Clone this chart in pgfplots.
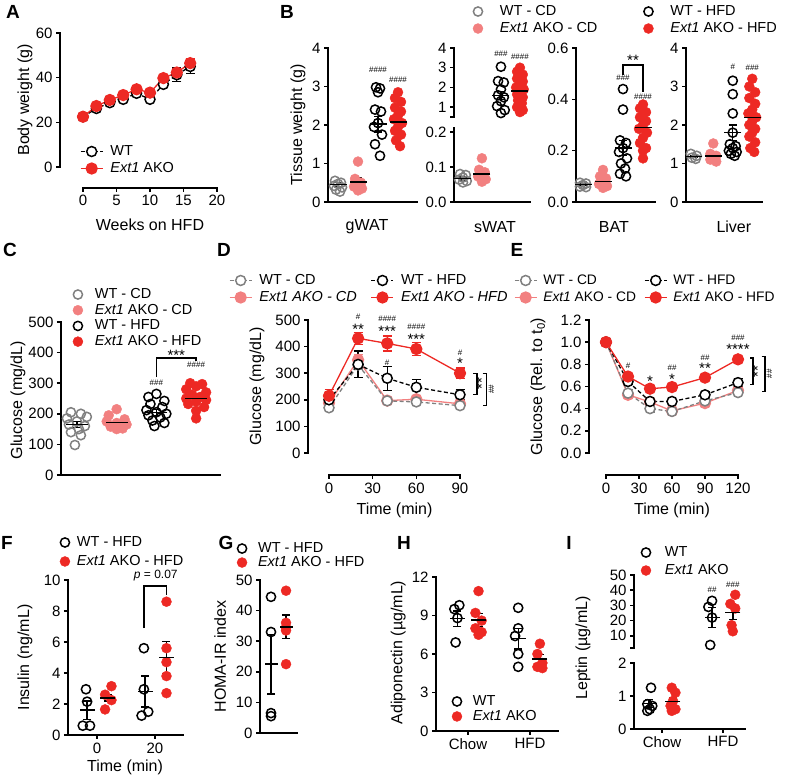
\documentclass[border=0pt]{standalone}
\usepackage{fontspec}
\setmainfont{Liberation Sans}
\usepackage{pgfplots}
\pgfplotsset{compat=1.18}

\definecolor{cRed}{RGB}{237,41,36}
\definecolor{cPink}{RGB}{242,128,128}
\definecolor{cGrey}{RGB}{128,128,128}

\newcommand\fs{\fontsize{15}{18}\selectfont}
\newcommand\als{\fontsize{16}{19}\selectfont}
\newcommand\lgf{\fontsize{14.5}{17}\selectfont}
\newcommand\lgs{\fontsize{13.8}{16}\selectfont}
\newcommand\hs{\fontsize{8}{8}\selectfont}
\newcommand\stf{\fontsize{15}{15}\selectfont}
\newcommand\pf{\fontsize{12}{14}\selectfont}
\newcommand\lf{\bfseries\fontsize{19}{19}\selectfont}

\pgfplotsset{
  prism/.style={
    scale only axis, clip=false, anchor=south west,
    axis lines*=left, tick align=outside, major tick length=4pt,
    axis line style={line width=1.5pt, line cap=rect},
    tick style={line width=1.5pt, black},
    tick label style={font=\fs}, label style={font=\als},
    /pgf/number format/assume math mode=true,
    legend cell align=left,
    legend style={draw=none, fill=none, inner sep=0pt, outer sep=0pt,
      anchor=north west, font=\lgf,
      nodes={inner sep=0pt, text height=10.5pt, text depth=2.5pt}},
  },
  ylab/.style 2 args={ylabel style={at={(axis description cs:#1,#2)}, anchor=center}},
  xlab/.style 2 args={xlabel style={at={(axis description cs:#1,#2)}, anchor=center}},
  gWtCd/.style={only marks, cGrey, mark=o, mark size=4.6pt, mark options={line width=1.5pt}},
  gAkoCd/.style={only marks, cPink, mark=*, mark size=5pt},
  gWtHfd/.style={only marks, black, mark=o, mark size=4.6pt, mark options={line width=1.5pt}},
  gAkoHfd/.style={only marks, cRed, mark=*, mark size=5pt},
  dotLegend/.style={legend image code/.code={\draw[##1] plot coordinates {(0pt,0pt)};}},
  lineLegend/.style={legend image code/.code={\draw[mark repeat=2,mark phase=2,##1] plot coordinates {(0pt,0pt) (11pt,0pt) (22pt,0pt)};}},
  mbar/.style={black, only marks, mark=-, mark size=#1, mark options={line width=1.5pt},
    error bars/y dir=both, error bars/y explicit,
    error bars/error bar style={line width=1.4pt, black},
    error bars/error mark options={rotate=90, line width=1.4pt, mark size=4pt, black}},
  mbar/.default=8pt,
  lWtCd/.style={cGrey, line width=1.3pt, dash pattern=on 4pt off 2.5pt, mark=*, mark size=5pt,
    mark options={solid, fill=white, draw=cGrey, line width=1.5pt}},
  lAkoCd/.style={cPink, line width=1.3pt, mark=*, mark size=5.5pt, mark options={solid}},
  lWtHfd/.style={black, line width=1.3pt, dash pattern=on 4pt off 2.5pt, mark=*, mark size=5pt,
    mark options={solid, fill=white, draw=black, line width=1.5pt}},
  lAkoHfd/.style={cRed, line width=1.3pt, mark=*, mark size=5.5pt, mark options={solid}},
  ts/.style={error bars/y dir=both, error bars/y explicit,
    error bars/error bar style={solid, line width=1.3pt},
    error bars/error mark options={rotate=90, solid, line width=1.3pt, mark size=4.5pt, #1}},
  ts/.default=black,
}

\begin{document}
\begin{tikzpicture}[font=\fs]
\useasboundingbox (0pt,0pt) rectangle (785pt,779pt);

% panel letters
\node[font=\lf] at (13pt,767pt) {A};
\node[font=\lf] at (287pt,767pt) {B};
\node[font=\lf] at (10pt,529pt) {C};
\node[font=\lf] at (224pt,529pt) {D};
\node[font=\lf] at (517pt,529pt) {E};
\node[font=\lf] at (7pt,236pt) {F};
\node[font=\lf] at (226pt,236pt) {G};
\node[font=\lf] at (404pt,236pt) {H};
\node[font=\lf] at (569pt,236pt) {I};

% ---------------- A: body weight ----------------
\begin{axis}[prism, at={(83pt,612pt)}, width=134pt, height=134pt,
  xmin=0, xmax=20, ymin=0, ymax=60,
  xtick={0,5,10,15,20}, ytick={0,20,40,60},
  axis x line shift=21pt, axis y line shift=23pt,
  xlabel={Weeks on HFD}, ylabel={Body weight (g)},
  xlab={0.5}{-0.433}, ylab={-0.433}{0.5},
  lineLegend,
  legend style={at={(axis description cs:-0.022,0.164)}, row sep=4pt,
    /tikz/every odd column/.style={column sep=7pt}}]
\addplot[lWtHfd, ts=black] coordinates {
  (0,22.5)+-(0,0.5) (2,26.2)+-(0,0.8) (4,28.8)+-(0,0.8) (6,30.3)+-(0,0.8)
  (8,33)+-(0,1) (10,30.3)+-(0,1) (12,37)+-(0,1.5) (14,41.3)+-(0,3) (16,45)+-(0,3)};
\addlegendentry{WT}
\addplot[lAkoHfd, ts=cRed] coordinates {
  (0,22.5)+-(0,0.8) (2,27.3)+-(0,0.8) (4,30)+-(0,0.8) (6,32.2)+-(0,0.8)
  (8,34.8)+-(0,1) (10,33.3)+-(0,1) (12,39.8)+-(0,1.2) (14,42.3)+-(0,1.5) (16,46.5)+-(0,2)};
\addlegendentry{\textit{Ext1} AKO}
\end{axis}

% ---------------- B: tissue weights ----------------
% gWAT
\begin{axis}[prism, at={(328pt,577pt)}, width=89pt, height=154pt,
  xmin=0.5, xmax=4.95, ymin=0, ymax=4, ytick={0,1,2,3,4}, xtick=\empty,
  xlabel={gWAT}, ylabel={Tissue weight (g)}, xlab={0.438}{-0.162}, ylab={-0.337}{0.5},
  legend columns=2,
  legend style={at={(axis description cs:1.629,1.279)}, row sep=4pt,
    /tikz/every odd column/.style={column sep=17pt},
    /tikz/every even column/.style={column sep=46pt}}]
\addlegendimage{gWtCd, dotLegend}\addlegendentry{WT - CD}
\addlegendimage{gWtHfd, dotLegend}\addlegendentry{WT - HFD}
\addlegendimage{gAkoCd, dotLegend}\addlegendentry{\textit{Ext1} AKO - CD}
\addlegendimage{gAkoHfd, dotLegend}\addlegendentry{\textit{Ext1} AKO - HFD}
\addplot[gWtCd, forget plot] coordinates {(0.85,0.55)(1.15,0.5)(1,0.47)(0.8,0.42)(1.2,0.38)(0.9,0.32)(1.1,0.27)};
\addplot[gAkoCd, forget plot] coordinates {(2,1.05)(1.85,0.6)(2.15,0.5)(1.8,0.4)(2.2,0.35)(2,0.3)};
\addplot[gWtHfd, forget plot] coordinates {(2.9,2.98)(3.1,2.95)(3,2.85)(2.85,2.4)(3.15,2.35)(3,2.05)(2.8,1.95)(3.2,1.75)(2.85,1.5)(3.1,1.2)};
\addplot[gAkoHfd, forget plot] coordinates {(4,2.85)(3.85,2.7)(4.15,2.6)(3.85,2.45)(4.15,2.35)(4,2.25)(3.8,2.15)(4.2,2.05)(4,1.95)(3.85,1.85)(4.15,1.75)(3.9,1.6)(4.1,1.45)};
\addplot[mbar=8.5pt, forget plot] coordinates {(1,0.45)+-(0,0.05) (2,0.52)+-(0,0.12) (3,2.02)+-(0,0.2) (4,2.08)+-(0,0.1)};
\node[font=\hs] at (axis cs:3,3.43) {\#\#\#\#};
\node[font=\hs] at (axis cs:4,3.17) {\#\#\#\#};
\end{axis}

% sWAT, lower segment
\begin{axis}[prism, at={(454pt,577pt)}, width=76pt, height=74.3pt,
  xmin=0.53, xmax=4.53, ymin=0, ymax=0.2125, ytick={0,0.1,0.2}, yticklabels={0.0,0.1,0.2},
  xtick=\empty, xlabel={sWAT}, xlab={0.54}{-0.336}]
\addplot[gWtCd] coordinates {(0.85,0.08)(1.15,0.077)(1,0.07)(0.8,0.064)(1.2,0.06)(1,0.056)};
\addplot[gAkoCd] coordinates {(2,0.125)(1.85,0.092)(2.15,0.085)(1.8,0.073)(2.2,0.065)(2,0.058)};
\addplot[mbar=8.5pt] coordinates {(1,0.067)+-(0,0.004) (2,0.08)+-(0,0.01)};
\end{axis}
% sWAT, upper segment
\begin{axis}[prism, at={(454pt,662pt)}, width=76pt, height=69pt, axis x line=none,
  xmin=0.53, xmax=4.53, ymin=0.5, ymax=4, ytick={0.5,1,2,3,4}, yticklabels={,1,2,3,4}]
\addplot[gWtHfd] coordinates {(3,3.05)(2.85,2.32)(3.15,2.25)(3,1.9)(2.85,1.6)(3.15,1.5)(3,1.3)(2.8,1.05)(3.2,0.85)(3,0.7)};
\addplot[gAkoHfd] coordinates {(4,3.0)(3.85,2.8)(4.15,2.65)(3.85,2.45)(4.15,2.3)(4,2.15)(3.8,2.0)(4.2,1.9)(4,1.8)(3.85,1.65)(4.15,1.5)(3.9,1.35)(4.1,1.2)(3.85,1.0)(4.15,0.85)(4,0.75)};
\addplot[mbar=8.5pt] coordinates {(3,1.6)+-(0,0.2) (4,1.82)+-(0,0.12)};
\node[font=\hs] at (axis cs:3,3.7) {\#\#\#};
\node[font=\hs] at (axis cs:4,3.55) {\#\#\#\#};
\end{axis}

% BAT
\begin{axis}[prism, at={(576pt,577pt)}, width=79pt, height=154pt,
  xmin=0.65, xmax=4.6, ymin=0, ymax=0.6, ytick={0,0.2,0.4,0.6}, yticklabels={0.0,0.2,0.4,0.6},
  xtick=\empty, xlabel={BAT}, xlab={0.48}{-0.162}]
\addplot[gWtCd] coordinates {(0.85,0.075)(1.15,0.072)(1,0.066)(0.85,0.06)(1.15,0.058)};
\addplot[gAkoCd] coordinates {(2,0.125)(1.85,0.1)(2.15,0.092)(2,0.08)(1.8,0.07)(2.2,0.062)(2,0.055)};
\addplot[gWtHfd] coordinates {(3,0.44)(3,0.36)(2.85,0.24)(3.15,0.23)(3,0.21)(2.8,0.195)(3.2,0.17)(2.9,0.15)(3.1,0.13)(2.85,0.11)(3.15,0.1)};
\addplot[gAkoHfd] coordinates {(4,0.38)(3.85,0.365)(4.15,0.35)(3.85,0.33)(4.15,0.315)(4,0.3)(3.8,0.285)(4.2,0.27)(4,0.25)(3.85,0.23)(4.15,0.21)(4,0.2)(4,0.17)};
\addplot[mbar=8.5pt] coordinates {(1,0.068)+-(0,0.004) (2,0.08)+-(0,0.01) (3,0.21)+-(0,0.03) (4,0.29)+-(0,0.015)};
\node[font=\hs] at (axis cs:3,0.483) {\#\#\#};
\node[font=\hs] at (axis cs:4,0.409) {\#\#\#\#};
\draw[line width=1.4pt] (axis cs:3,0.495) -- (axis cs:3,0.534) -- (axis cs:4,0.534) -- (axis cs:4,0.43);
\node[font=\stf] at (axis cs:3.5,0.553) {**};
\end{axis}

% Liver
\begin{axis}[prism, at={(686pt,577pt)}, width=76pt, height=154pt,
  xmin=0.6, xmax=4.5, ymin=0, ymax=4, ytick={0,1,2,3,4},
  xtick=\empty, xlabel={Liver}, xlab={0.63}{-0.162}]
\addplot[gWtCd] coordinates {(0.85,1.25)(1.15,1.2)(0.9,1.15)(1.1,1.12)};
\addplot[gAkoCd] coordinates {(2,1.52)(1.85,1.25)(2.15,1.2)(1.85,1.1)(2.15,1.05)};
\addplot[gWtHfd] coordinates {(3,3.15)(3,2.8)(3,2.3)(3,1.8)(2.85,1.5)(3.15,1.45)(3,1.4)(2.8,1.33)(3.2,1.3)(2.9,1.25)(3.1,1.2)};
\addplot[gAkoHfd] coordinates {(4,3.2)(3.85,3.0)(4.15,2.85)(3.85,2.7)(4.15,2.55)(4,2.4)(3.8,2.3)(4.2,2.2)(4,2.1)(3.85,2.0)(4.15,1.9)(4,1.8)(3.85,1.7)(4.15,1.55)(3.9,1.4)(4.1,1.3)};
\addplot[mbar=8.5pt] coordinates {(1,1.18)+-(0,0.03) (2,1.2)+-(0,0.07) (3,1.8)+-(0,0.2) (4,2.2)+-(0,0.12)};
\node[font=\hs] at (axis cs:3,3.5) {\#};
\node[font=\hs] at (axis cs:4,3.48) {\#\#\#};
\end{axis}

% ---------------- C: fasting glucose ----------------
\begin{axis}[prism, at={(61pt,304pt)}, width=159pt, height=153pt,
  xmin=0.6, xmax=4.6, ymin=0, ymax=500, ytick={0,100,200,300,400,500}, xtick=\empty,
  ylabel={Glucose (mg/dL)}, ylab={-0.27}{0.49},
  legend style={at={(axis description cs:0.075,1.222)}, row sep=2.7pt,
    /tikz/every odd column/.style={column sep=12pt}}]
\addlegendimage{gWtCd, dotLegend}\addlegendentry{WT - CD}
\addlegendimage{gAkoCd, dotLegend}\addlegendentry{\textit{Ext1} AKO - CD}
\addlegendimage{gWtHfd, dotLegend}\addlegendentry{WT - HFD}
\addlegendimage{gAkoHfd, dotLegend}\addlegendentry{\textit{Ext1} AKO - HFD}
\addplot[gWtCd, forget plot] coordinates {(0.85,205)(1.1,200)(1.25,190)(0.75,185)(1,175)(0.8,165)(1.2,160)(1.05,150)(0.85,140)(1.1,130)(0.95,98)};
\addplot[gAkoCd, forget plot] coordinates {(2,215)(1.8,195)(2.2,182)(1.75,175)(2,170)(2.25,165)(1.85,158)(2.15,152)(2,150)};
\addplot[gWtHfd, forget plot] coordinates {(3,265)(2.8,255)(3.2,242)(2.85,232)(3.15,222)(2.75,212)(3,205)(3.25,200)(2.8,195)(3.1,188)(2.9,178)(3.2,170)(2.95,160)};
\addplot[gAkoHfd, forget plot] coordinates {(3.85,300)(4.15,297)(4,290)(3.75,280)(4.25,270)(3.9,262)(4.1,255)(3.75,250)(4.25,245)(4,240)(3.8,232)(4.2,222)(4,210)(4,185)};
\addplot[mbar=11pt, forget plot] coordinates {(1,165)+-(0,10) (2,172)+-(0,5) (3,205)+-(0,10) (4,250)+-(0,10)};
\node[font=\hs] at (axis cs:3,300) {\#\#\#};
\node[font=\hs] at (axis cs:4,360) {\#\#\#\#};
\draw[line width=1.4pt] (axis cs:3,320) -- (axis cs:3,382) -- (axis cs:4,382) -- (axis cs:4,374);
\node[font=\stf] at (axis cs:3.5,392) {***};
\end{axis}

% ---------------- D: GTT ----------------
\begin{axis}[prism, at={(329pt,326pt)}, width=131pt, height=133pt,
  xmin=0, xmax=90, ymin=0, ymax=500, xtick={0,30,60,90}, ytick={0,100,200,300,400,500},
  axis x line shift=22pt, axis y line shift=21pt,
  xlabel={Time (min)}, ylabel={Glucose (mg/dL)}, xlab={0.5}{-0.43}, ylab={-0.55}{0.5},
  lineLegend, legend columns=2,
  legend style={at={(axis description cs:-0.763,1.346)}, row sep=4pt,
    /tikz/every odd column/.style={column sep=7pt},
    /tikz/every even column/.style={column sep=14pt}}]
\addlegendimage{lWtCd}\addlegendentry{WT - CD}
\addlegendimage{lWtHfd}\addlegendentry{WT - HFD}
\addlegendimage{lAkoCd}\addlegendentry{\textit{Ext1 AKO - CD}}
\addlegendimage{lAkoHfd}\addlegendentry{\textit{Ext1 AKO - HFD}}
\addplot[lAkoCd, ts=cPink, forget plot] coordinates {(0,188)+-(0,10) (20,350)+-(0,20) (40,197)+-(0,8) (60,202)+-(0,8) (90,185)+-(0,8)};
\addplot[lWtCd, ts=cGrey, forget plot] coordinates {(0,170)+-(0,8) (20,331)+-(0,15) (40,196)+-(0,8) (60,192)+-(0,8) (90,178)+-(0,8)};
\addplot[lWtHfd, ts=black, forget plot] coordinates {(0,200)+-(0,20) (20,333)+-(0,50) (40,281)+-(0,45) (60,247)+-(0,30) (90,219)+-(0,20)};
\addplot[lAkoHfd, ts=cRed, forget plot] coordinates {(0,215)+-(0,25) (20,431)+-(0,22) (40,412)+-(0,28) (60,391)+-(0,25) (90,300)+-(0,20)};
\node[font=\hs] at (axis cs:20,512) {\#};
\node[font=\stf] at (axis cs:20,466) {**};
\node[font=\hs] at (axis cs:40,506) {\#\#\#\#};
\node[font=\stf] at (axis cs:40,458) {***};
\node[font=\hs] at (axis cs:40,341) {\#};
\node[font=\hs] at (axis cs:60,475) {\#\#\#\#};
\node[font=\stf] at (axis cs:60,429) {***};
\node[font=\hs] at (axis cs:90,377) {\#};
\node[font=\stf] at (axis cs:90,336) {*};
\draw[line width=1.3pt] (axis cs:99,300) -- (axis cs:101.6,300) -- (axis cs:101.6,219) -- (axis cs:99,219);
\node[font=\stf, rotate=90] at (axis cs:105,260) {**};
\draw[line width=1.3pt] (axis cs:105.5,300) -- (axis cs:108,300) -- (axis cs:108,178) -- (axis cs:105.5,178);
\node[font=\hs, rotate=90] at (axis cs:111.5,240) {\#\#};
\end{axis}

% ---------------- E: ITT ----------------
\begin{axis}[prism, at={(606pt,326pt)}, width=132pt, height=133pt,
  xmin=0, xmax=120, ymin=0, ymax=1.2, xtick={0,30,60,90,120},
  ytick={0,0.2,0.4,0.6,0.8,1.0,1.2}, yticklabels={0.0,0.2,0.4,0.6,0.8,1.0,1.2},
  axis x line shift=22pt, axis y line shift=17pt,
  xlabel={Time (min)}, ylabel={Glucose (Rel. to t\textsubscript{0})}, xlab={0.5}{-0.43}, ylab={-0.515}{0.5},
  lineLegend, legend columns=2,
  legend style={at={(axis description cs:-0.697,1.346)}, row sep=4pt, font=\lgs,
    /tikz/every odd column/.style={column sep=6pt},
    /tikz/every even column/.style={column sep=8pt}}]
\addlegendimage{lWtCd}\addlegendentry{WT - CD}
\addlegendimage{lWtHfd}\addlegendentry{WT - HFD}
\addlegendimage{lAkoCd}\addlegendentry{\textit{Ext1} AKO - CD}
\addlegendimage{lAkoHfd}\addlegendentry{\textit{Ext1} AKO - HFD}
\addplot[lAkoCd, ts=cPink, forget plot] coordinates {(0,1.0) (20,0.525)+-(0,0.03) (40,0.46)+-(0,0.03) (60,0.38)+-(0,0.02) (90,0.45)+-(0,0.02) (120,0.565)+-(0,0.02)};
\addplot[lWtCd, ts=cGrey, forget plot] coordinates {(0,1.0) (20,0.54)+-(0,0.03) (40,0.40)+-(0,0.03) (60,0.375)+-(0,0.01) (90,0.47)+-(0,0.02) (120,0.545)+-(0,0.02)};
\addplot[lWtHfd, ts=black, forget plot] coordinates {(0,1.0) (20,0.645)+-(0,0.03) (40,0.465)+-(0,0.02) (60,0.465)+-(0,0.02) (90,0.525)+-(0,0.03) (120,0.635)+-(0,0.04)};
\addplot[lAkoHfd, ts=cRed, forget plot] coordinates {(0,1.0) (20,0.69)+-(0,0.03) (40,0.58)+-(0,0.02) (60,0.595)+-(0,0.02) (90,0.68)+-(0,0.02) (120,0.845)+-(0,0.02)};
\node[font=\hs] at (axis cs:20,0.79) {\#};
\node[font=\stf] at (axis cs:40,0.65) {*};
\node[font=\hs] at (axis cs:60,0.766) {\#\#};
\node[font=\stf] at (axis cs:60,0.663) {*};
\node[font=\hs] at (axis cs:90,0.862) {\#\#};
\node[font=\stf] at (axis cs:90,0.763) {**};
\node[font=\hs] at (axis cs:120,1.036) {\#\#\#};
\node[font=\stf] at (axis cs:120,0.933) {****};
\draw[line width=1.3pt] (axis cs:131,0.856) -- (axis cs:133.6,0.856) -- (axis cs:133.6,0.616) -- (axis cs:131,0.616);
\node[font=\stf, rotate=90] at (axis cs:138,0.736) {**};
\draw[line width=1.3pt] (axis cs:141.5,0.871) -- (axis cs:144.5,0.871) -- (axis cs:144.5,0.556) -- (axis cs:141.5,0.556);
\node[font=\hs, rotate=90] at (axis cs:148.5,0.713) {\#\#};
\end{axis}

% ---------------- F: insulin ----------------
\begin{axis}[prism, at={(68pt,44pt)}, width=115pt, height=155pt,
  xmin=-10, xmax=29.7, ymin=0, ymax=10, xtick={0,20}, ytick={0,2,4,6,8,10},
  xlabel={Time (min)}, ylabel={Insulin (ng/mL)}, xlab={0.496}{-0.206}, ylab={-0.374}{0.5},
  legend style={at={(axis description cs:-0.07,1.284)}, row sep=6pt,
    /tikz/every odd column/.style={column sep=7pt}}]
\addlegendimage{gWtHfd, dotLegend}\addlegendentry{WT - HFD}
\addlegendimage{gAkoHfd, dotLegend}\addlegendentry{\textit{Ext1} AKO - HFD}
\addplot[gWtHfd, forget plot] coordinates {(-3.8,2.95)(-3.4,2.15)(-4.9,0.6)(-2.4,0.6)(16.2,5.6)(16.2,2.95)(17.7,1.5)(15.4,1.25)};
\addplot[gAkoHfd, forget plot] coordinates {(5,3.15)(2.8,2.6)(5,2.25)(2.8,1.65)(24,8.6)(24,5.6)(24,4.7)(24,3.8)(24,2.7)};
\addplot[mbar=7.5pt, forget plot] coordinates {(-3.4,1.6)+-(0,0.6) (3.8,2.4)+-(0,0.2) (16.6,2.8)+-(0,1.0) (24,5.0)+-(0,1.05)};
\draw[line width=1.4pt] (axis cs:16.2,6.9) -- (axis cs:16.2,9.6) -- (axis cs:24,9.6) -- (axis cs:24,9.0);
\node[font=\pf] at (axis cs:20.3,10.3) {\textit{p} = 0.07};
\end{axis}

% ---------------- G: HOMA-IR ----------------
\begin{axis}[prism, at={(260pt,46pt)}, width=37pt, height=153pt,
  xmin=0.267, xmax=2.73, ymin=0, ymax=50, ytick={0,10,20,30,40,50}, xtick=\empty,
  ylabel={HOMA-IR index}, ylab={-1.08}{0.5},
  legend style={at={(axis description cs:-0.62,1.248)}, row sep=1pt,
    /tikz/every odd column/.style={column sep=11pt}}]
\addlegendimage{gWtHfd, dotLegend}\addlegendentry{WT - HFD}
\addlegendimage{gAkoHfd, dotLegend}\addlegendentry{\textit{Ext1} AKO - HFD}
\addplot[gWtHfd, forget plot] coordinates {(1,44.5)(1,33)(1,6.5)(1,5.5)};
\addplot[gAkoHfd, forget plot] coordinates {(2,46.5)(2,36)(2,34.5)(2,33.5)(2,22.5)};
\addplot[mbar=6.5pt, forget plot] coordinates {(1,22.5)+-(0,9.7) (2,34.7)+-(0,3.8)};
\end{axis}

% ---------------- H: adiponectin ----------------
\begin{axis}[prism, at={(436pt,48pt)}, width=122pt, height=154pt,
  xmin=0.484, xmax=2.452, ymin=0, ymax=12, ytick={0,3,6,9,12}, xtick={1,2}, xticklabels={Chow,HFD},
  ylabel={Adiponectin (µg/mL)}, ylab={-0.31}{0.51},
  legend style={at={(axis description cs:0.131,0.234)}, row sep=2pt,
    /tikz/every odd column/.style={column sep=11pt}}]
\addlegendimage{gWtHfd, dotLegend}\addlegendentry{WT}
\addlegendimage{gAkoHfd, dotLegend}\addlegendentry{\textit{Ext1} AKO}
\addplot[gWtHfd, forget plot] coordinates {(0.86,9.8)(0.78,9.5)(0.83,8.8)(0.8,6.9)(1.81,9.6)(1.81,8.0)(1.76,7.4)(1.81,6.0)(1.81,5.0)};
\addplot[gAkoHfd, forget plot] coordinates {(1.17,10.9)(1.12,9.2)(1.22,8.6)(1.12,8.0)(1.22,7.7)(1.17,7.5)(2.16,6.8)(2.12,6.0)(2.2,5.3)(2.12,5.0)(2.2,4.9)};
\addplot[mbar=7.5pt, forget plot] coordinates {(0.83,8.75)+-(0,0.6) (1.17,8.65)+-(0,0.5) (1.81,7.2)+-(0,0.8) (2.16,5.6)+-(0,0.35)};
\end{axis}

% ---------------- I: leptin ----------------
% lower segment
\begin{axis}[prism, at={(634pt,50pt)}, width=111pt, height=66pt,
  xmin=0.541, xmax=2.36, ymin=0, ymax=2, ytick={0,1,2}, xtick={1,2}, xticklabels={Chow,HFD},
  ylabel={Leptin (µg/mL)}, ylab={-0.46}{1.227}]
\addplot[gWtHfd] coordinates {(0.82,1.25)(0.76,0.75)(0.84,0.7)(0.8,0.6)(0.76,0.55)};
\addplot[gAkoHfd] coordinates {(1.16,1.25)(1.22,1.1)(1.18,0.85)(1.14,0.7)(1.22,0.6)(1.16,0.55)};
\addplot[mbar=7.5pt] coordinates {(0.79,0.77)+-(0,0.12) (1.18,0.84)+-(0,0.12)};
\end{axis}
% upper segment
\begin{axis}[prism, at={(634pt,131pt)}, width=111pt, height=73pt, axis x line=none,
  xmin=0.541, xmax=2.36, ymin=2, ymax=50, ytick={2,10,20,30,40,50}, yticklabels={,10,20,30,40,50},
  legend style={at={(axis description cs:0.063,1.397)}, row sep=5pt,
    /tikz/every odd column/.style={column sep=14pt}}]
\addlegendimage{gWtHfd, dotLegend}\addlegendentry{WT}
\addlegendimage{gAkoHfd, dotLegend}\addlegendentry{\textit{Ext1} AKO}
\addplot[gWtHfd, forget plot] coordinates {(1.82,33)(1.76,29)(1.82,22)(1.79,4)};
\addplot[gAkoHfd, forget plot] coordinates {(2.2,37)(2.12,31)(2.2,28)(2.14,17)(2.16,13)};
\addplot[mbar=7.5pt, forget plot] coordinates {(1.82,22)+-(0,6.5) (2.16,25.2)+-(0,4.5)};
\node[font=\hs] at (axis cs:1.82,40.2) {\#\#};
\node[font=\hs] at (axis cs:2.16,43.5) {\#\#\#};
\end{axis}

\end{tikzpicture}
\end{document}
